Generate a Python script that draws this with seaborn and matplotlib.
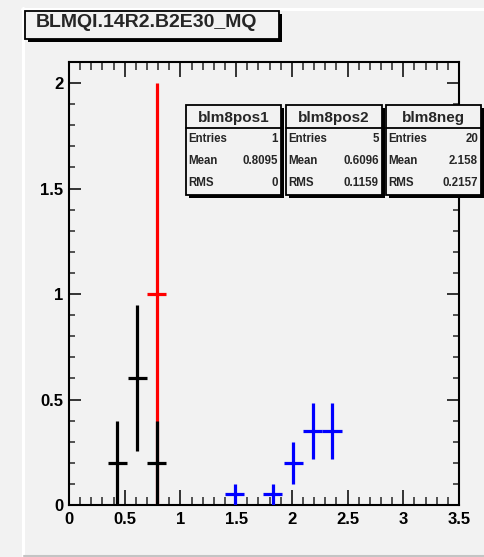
import numpy as np
import pandas as pd
import seaborn as sns
import matplotlib
matplotlib.use("Agg")
import matplotlib.pyplot as plt
from matplotlib.patches import Rectangle
from matplotlib.lines import Line2D

# ---------------- data ----------------
title = "BLMQI.14R2.B2E30_MQ"
series_names = ["blm8pos1", "blm8pos2", "blm8neg"]
series_colors = ["#ff0000", "#000000", "#0000ff"]

pos1_x = [0.787]
pos1_y = [1.0]
pos1_err = [1.0]

pos2_x = [0.434, 0.613, 0.787]
pos2_y = [0.2, 0.6, 0.2]
pos2_err = [0.2, 0.346, 0.2]

neg_x = [1.487, 1.828, 2.013, 2.187, 2.361]
neg_y = [0.05, 0.05, 0.2, 0.35, 0.35]
neg_err = [0.05, 0.05, 0.1, 0.132, 0.132]

bin_half_width = 0.087

stat_entries = ["1", "5", "20"]
stat_mean = ["0.8095", "0.6096", "2.158"]
stat_rms = ["0", "0.1159", "0.2157"]

x_ticks = [0, 0.5, 1, 1.5, 2, 2.5, 3, 3.5]
x_tick_labels = ["0", "0.5", "1", "1.5", "2", "2.5", "3", "3.5"]
y_ticks = [0, 0.5, 1, 1.5, 2]
y_tick_labels = ["0", "0.5", "1", "1.5", "2"]

# ---------------- figure ----------------
W, H = 484, 557
BG = "#f2f2f2"
sns.set_theme(style="ticks")
plt.rcParams["font.family"] = ["Liberation Sans", "DejaVu Sans"]

fig = plt.figure(figsize=(W / 100, H / 100), dpi=100, facecolor=BG)

def fx(x):
    return x / W

def fy(y):
    return 1 - y / H

# axes frame: left 69, right 459, top 62, bottom 505 (pixels)
ax = fig.add_axes([fx(69), fy(505), (459 - 69) / W, (505 - 62) / H])
ax.set_facecolor(BG)

frames = []
for name, xs, ys, es in [
    (series_names[0], pos1_x, pos1_y, pos1_err),
    (series_names[1], pos2_x, pos2_y, pos2_err),
    (series_names[2], neg_x, neg_y, neg_err),
]:
    frames.append(pd.DataFrame({"x": xs, "y": ys, "err": es, "series": name}))
df = pd.concat(frames, ignore_index=True)

palette = dict(zip(series_names, series_colors))
for name in series_names:
    sub = df[df["series"] == name]
    ax.errorbar(sub["x"], sub["y"], xerr=bin_half_width, yerr=sub["err"],
                fmt="none", ecolor=palette[name], elinewidth=2.3, capsize=0,
                zorder=3)
sns.scatterplot(data=df, x="x", y="y", hue="series", palette=palette,
                s=3, marker="s", linewidth=0, legend=False, ax=ax, zorder=4)

ax.set_xlim(0, 3.5)
ax.set_ylim(0, 2.1)
ax.set_xlabel("")
ax.set_ylabel("")
ax.set_xticks(x_ticks)
ax.set_xticklabels(x_tick_labels)
ax.set_yticks(y_ticks)
ax.set_yticklabels(y_tick_labels)
ax.set_xticks(np.arange(0, 3.51, 0.1), minor=True)
ax.set_yticks(np.arange(0, 2.11, 0.1), minor=True)
for lab in ax.get_xticklabels() + ax.get_yticklabels():
    lab.set_fontweight("bold")
    lab.set_fontsize(12)
ax.tick_params(axis="x", which="major", direction="in", length=11, width=1.1,
               top=True, bottom=True, pad=5, colors="black")
ax.tick_params(axis="x", which="minor", direction="in", length=5.5, width=1.1,
               top=True, bottom=True)
ax.tick_params(axis="y", which="major", direction="in", length=8.6, width=1.1,
               left=True, right=True, pad=4, colors="black")
ax.tick_params(axis="y", which="minor", direction="in", length=4.6, width=1.1,
               left=True, right=True)
for sp in ax.spines.values():
    sp.set_visible(True)
    sp.set_linewidth(1.5)
    sp.set_color("black")

# ---------------- canvas artefacts ----------------
fig.add_artist(Line2D([fx(22.5), fx(22.5)], [fy(8), fy(557)], color="white", lw=2.2))
fig.add_artist(Line2D([fx(22), fx(484)], [fy(8.5), fy(8.5)], color="white", lw=2.2))
fig.add_artist(Line2D([fx(24), fx(484)], [fy(555.5), fy(555.5)], color="#c4c4c4", lw=1.5))

# ---------------- boxes ----------------
def box(x0, y0, x1, y1, z=10):
    sh = 3
    fig.add_artist(Rectangle((fx(x0 + sh), fy(y1 + sh)), (x1 - x0) / W, (y1 - y0) / H,
                             transform=fig.transFigure, facecolor="black",
                             edgecolor="black", lw=0, zorder=z))
    fig.add_artist(Rectangle((fx(x0), fy(y1)), (x1 - x0) / W, (y1 - y0) / H,
                             transform=fig.transFigure, facecolor=BG,
                             edgecolor="black", lw=1.3, zorder=z + 1))

# title box
box(25, 11, 279, 39)
fig.text(fx(36), fy(27), title, fontsize=14, fontweight="bold",
         ha="left", va="baseline", zorder=20)

# stat boxes
box_x = [(186, 281), (286, 382), (386, 481)]
for (x0, x1), name, ent, mn, rm in zip(box_x, series_names, stat_entries,
                                       stat_mean, stat_rms):
    box(x0, 105, x1, 195)
    fig.add_artist(Line2D([fx(x0), fx(x1)], [fy(128), fy(128)], color="black",
                          lw=1.3, zorder=15))
    fig.text(fx((x0 + x1) / 2), fy(121.7), name, fontsize=11, fontweight="bold",
             ha="center", va="baseline", zorder=20)
    for lab, val, yb in [("Entries", ent, 141.7), ("Mean", mn, 164.3),
                         ("RMS", rm, 185.7)]:
        fig.text(fx(x0 + 2.5), fy(yb), lab, fontsize=8.3, fontweight="bold",
                 ha="left", va="baseline", zorder=20)
        fig.text(fx(x1 - 3), fy(yb), val, fontsize=8.3, fontweight="bold",
                 ha="right", va="baseline", zorder=20)

fig.savefig("out.png", dpi=100, facecolor=BG)
